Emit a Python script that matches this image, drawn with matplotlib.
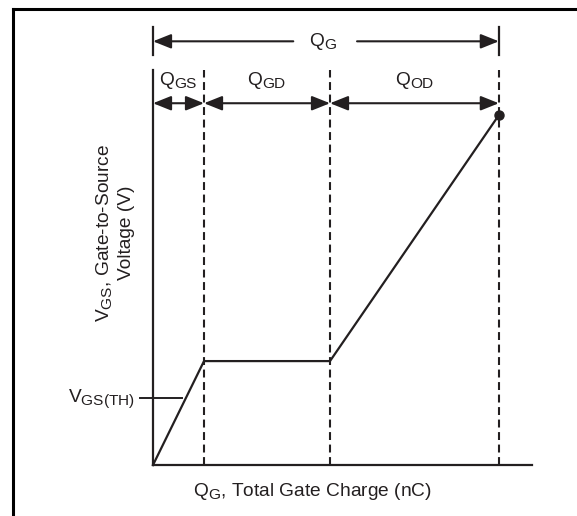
import numpy as np
import matplotlib.pyplot as plt
import matplotlib._mathtext as mathtext_internals
from matplotlib.lines import Line2D

# the original subscripts are drawn larger than mathtext's default 0.7
mathtext_internals.SHRINK_FACTOR = 0.8

plt.rcParams['font.family'] = ['Liberation Sans', 'DejaVu Sans']
plt.rcParams['mathtext.fontset'] = 'custom'
plt.rcParams['mathtext.rm'] = 'Liberation Sans'
plt.rcParams['mathtext.it'] = 'Liberation Sans:italic'

# charge at the region boundaries (arbitrary units) and gate voltage along the curve
q_nodes = [0.0, 1.0, 3.47, 6.78]
v_curve = [0.0, 2.97, 2.97, 10.0]
v_th = 1.91
region_labels = [r'Q$_\mathrm{GS}$', r'Q$_\mathrm{GD}$', r'Q$_\mathrm{OD}$']
total_label = r'Q$_\mathrm{G}$'
x_label = r'Q$_\mathrm{G}$, Total Gate Charge (nC)'
y_label = 'V$_\\mathrm{GS}$, Gate-to-Source\nVoltage (V)'
vth_label = r'V$_\mathrm{GS(TH)}$'

ink = '#231f20'
fs = 13.8

fig = plt.figure(figsize=(5.77, 5.16), dpi=100)
ax = fig.add_axes([153 / 577, 51 / 516, 379 / 577, 395 / 516])
x_max = 7.43
y_max = 11.29
ax.set_xlim(0, x_max)
ax.set_ylim(0, y_max)
for s in ['top', 'right']:
    ax.spines[s].set_visible(False)
for s in ['left', 'bottom']:
    ax.spines[s].set_linewidth(1.6)
    ax.spines[s].set_color(ink)
ax.set_xticks([])
ax.set_yticks([])

# curve and end dot
ax.plot(q_nodes, v_curve, color=ink, lw=1.6, clip_on=False, zorder=3)
ax.plot(q_nodes[-1], v_curve[-1], 'o', color=ink, ms=6.5, clip_on=False, zorder=4)

# dashed boundaries
ax.vlines(q_nodes[1:], 0, y_max, colors=ink, lw=1.5, linestyles=(0, (3.8, 2.2)))

# threshold marker
ax.plot([-0.25, 0.57], [v_th, v_th], color=ink, lw=1.4, clip_on=False)
ax.text(-0.35, v_th, vth_label, ha='right', va='center', fontsize=fs, color=ink)

head = 'head_length=0.55,head_width=0.22'
arrow = dict(arrowstyle='<|-|>,' + head, shrinkA=0, shrinkB=0, mutation_scale=20, lw=1.5, color=ink)
one_way = dict(arrowstyle='-|>,' + head, shrinkA=0, shrinkB=0, mutation_scale=20, lw=1.5, color=ink)

# region arrows and labels
y_arr = 10.34
y_lab = 11.0
for i, lab in enumerate(region_labels):
    a, b = q_nodes[i], q_nodes[i + 1]
    ax.annotate('', xy=(b, y_arr), xytext=(a, y_arr), arrowprops=arrow, annotation_clip=False)
    ax.text((a + b) / 2, y_lab, lab, ha='center', va='center', fontsize=fs, color=ink)

# total charge bracket
y_top = 12.11
ax.plot([0, 0], [11.71, 12.51], color=ink, lw=1.6, clip_on=False)
ax.plot([q_nodes[-1]] * 2, [11.71, 12.51], color=ink, lw=1.6, clip_on=False)
ax.annotate('', xy=(0, y_top), xytext=(2.75, y_top), arrowprops=one_way, annotation_clip=False)
ax.annotate('', xy=(q_nodes[-1], y_top), xytext=(4.0, y_top), arrowprops=one_way, annotation_clip=False)
ax.text(3.33, y_top, total_label, ha='center', va='center', fontsize=fs, color=ink)

# axis titles
ax.text(3.12, -0.77, x_label, ha='center', va='center', fontsize=fs, color=ink)
ax.text(-0.76, 6.63, y_label, ha='center', va='center', rotation=90,
        multialignment='center', fontsize=fs, color=ink, linespacing=1.3)

# frame lines (top and left only)
fig.add_artist(Line2D([13 / 577, 1.0], [1 - 9 / 516] * 2, color='black', lw=2.2))
fig.add_artist(Line2D([13 / 577] * 2, [0.0, 1 - 9 / 516], color='black', lw=2.2))

fig.savefig('out.png', dpi=100)
